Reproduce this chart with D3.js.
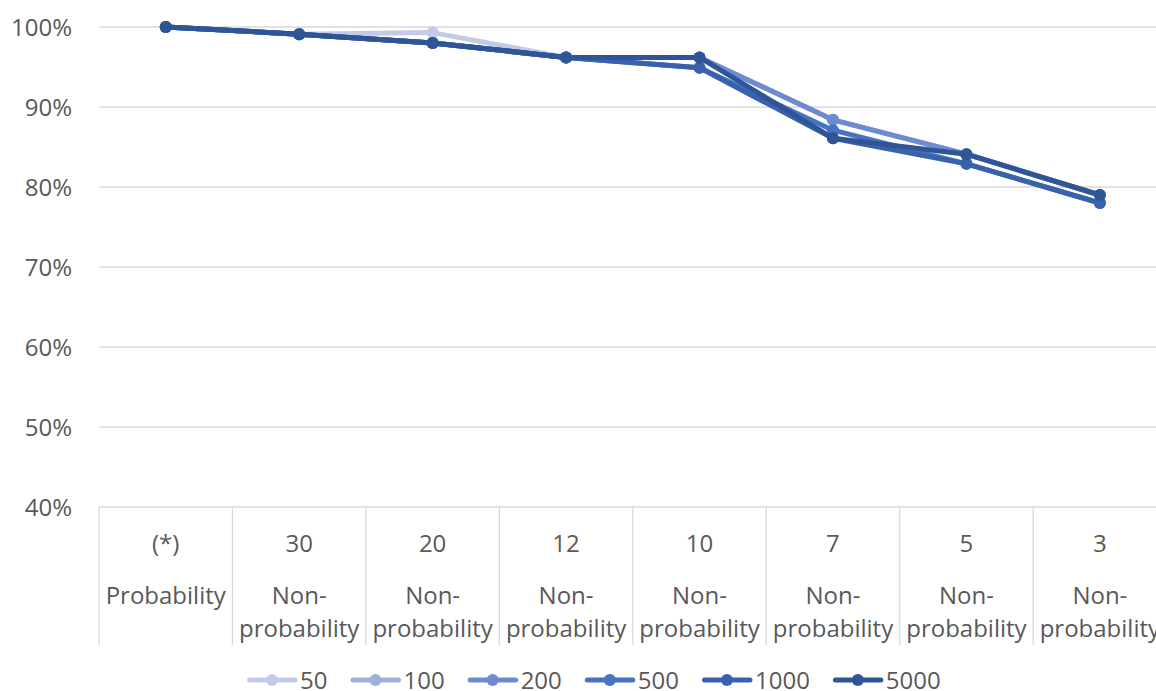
<!DOCTYPE html>
<html><head><meta charset="utf-8">
<script src="https://cdn.jsdelivr.net/npm/d3@7"></script>
<style>
html,body{margin:0;padding:0;background:#fff;overflow:hidden}
text{font-family:"Open Sans",sans-serif;fill:#595959}
</style></head><body>
<svg id="c" width="1156" height="691"></svg>
<script>
const categoryTop = ["(*)","30","20","12","10","7","5","3"];
const categoryBottom = [["Probability"],["Non-","probability"],["Non-","probability"],["Non-","probability"],["Non-","probability"],["Non-","probability"],["Non-","probability"],["Non-","probability"]];
const seriesNames = ["50","100","200","500","1000","5000"];
const s50   = [100, 99.1, 99.3, 96.2, 96.2, 88.4, 84.1, 79.0];
const s100  = [100, 99.1, 98.0, 96.2, 96.2, 88.4, 84.1, 79.0];
const s200  = [100, 99.1, 98.0, 96.2, 96.2, 88.4, 84.1, 79.0];
const s500  = [100, 99.1, 98.0, 96.2, 94.9, 87.1, 82.9, 78.0];
const s1000 = [100, 99.1, 98.0, 96.2, 94.9, 86.1, 82.9, 78.0];
const s5000 = [100, 99.1, 98.0, 96.2, 96.2, 86.1, 84.1, 79.0];
const yTicks = [40,50,60,70,80,90,100];
const colors = ["#c3cbe6","#9fb0dc","#6d8bd0","#4673c2","#3a62ac","#2f5597"];
const seriesVals = [s50,s100,s200,s500,s1000,s5000];
const FS = "24px";

const svg = d3.select("#c");
const x = d3.scaleBand().domain(d3.range(categoryTop.length)).range([99, 1166.6]).padding(0);
const y = d3.scaleLinear().domain([40,100]).range([507,27]);

svg.append("g").selectAll("line").data(yTicks).join("line")
  .attr("x1",99).attr("x2",1156).attr("y1",d=>y(d)).attr("y2",d=>y(d))
  .attr("stroke","#d9d9d9").attr("stroke-width",1.3);
svg.append("g").selectAll("text").data(yTicks).join("text")
  .attr("x",72).attr("y",d=>y(d)).attr("dy","0.36em").attr("text-anchor","end")
  .style("font-size",FS).text(d=>d+"%");
const bounds = d3.range(categoryTop.length+1).map(i=> i<categoryTop.length ? x(i) : x(i-1)+x.bandwidth());
svg.append("g").selectAll("line").data(bounds).join("line")
  .attr("x1",d=>d).attr("x2",d=>d).attr("y1",507).attr("y2",645)
  .attr("stroke","#d9d9d9").attr("stroke-width",1.3);
const cg = svg.append("g");
categoryTop.forEach((t,i)=>{
  const cx = x(i)+x.bandwidth()/2;
  cg.append("text").attr("x",cx).attr("y",552).attr("text-anchor","middle").style("font-size",FS).text(t);
  const lines = categoryBottom[i];
  cg.append("text").attr("x",cx).attr("y",604).attr("text-anchor","middle").style("font-size",FS).text(lines[0]);
  if(lines.length>1)
    cg.append("text").attr("x",cx).attr("y",637).attr("text-anchor","middle").style("font-size",FS).text(lines[1]);
});
const line = d3.line().x((d,i)=>x(i)+x.bandwidth()/2).y(d=>y(d));
seriesVals.forEach((vals,k)=>{
  const g = svg.append("g");
  g.append("path").datum(vals).attr("d",line).attr("fill","none")
    .attr("stroke",colors[k]).attr("stroke-width",5).attr("stroke-linejoin","round").attr("stroke-linecap","round");
  g.selectAll("circle").data(vals).join("circle")
    .attr("cx",(d,i)=>x(i)+x.bandwidth()/2).attr("cy",d=>y(d)).attr("r",6).attr("fill",colors[k]);
});
const lg = svg.append("g");
let lx = 247;
const ly = 680;
seriesNames.forEach((n,k)=>{
  lg.append("line").attr("x1",lx+2.5).attr("x2",lx+48).attr("y1",ly).attr("y2",ly)
    .attr("stroke",colors[k]).attr("stroke-width",5).attr("stroke-linecap","round");
  lg.append("circle").attr("cx",lx+25).attr("cy",ly).attr("r",6).attr("fill",colors[k]);
  const t = lg.append("text").attr("x",lx+53).attr("y",ly).attr("dy","0.36em").style("font-size",FS).text(n);
  const w = t.node().getComputedTextLength();
  lx = lx + 53 + w + 23;
});
</script>
</body></html>
